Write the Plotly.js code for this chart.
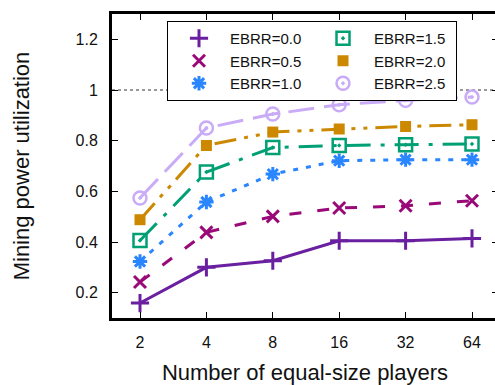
<!DOCTYPE html>
<html>
<head>
<meta charset="utf-8">
<script src="https://cdn.plot.ly/plotly-3.0.1.min.js"></script>
<style>
html,body{margin:0;padding:0;overflow:hidden;background:#fff;}
#chart{width:500px;height:385px;}
</style>
</head>
<body>
<div id="chart"></div>
<script>
// ---- data ----
const players = [2, 4, 8, 16, 32, 64];
const seriesNames = ['EBRR=0.0', 'EBRR=0.5', 'EBRR=1.0', 'EBRR=1.5', 'EBRR=2.0', 'EBRR=2.5'];
const ebrr00 = [0.159, 0.300, 0.326, 0.405, 0.405, 0.414];
const ebrr05 = [0.242, 0.438, 0.501, 0.534, 0.543, 0.563];
const ebrr10 = [0.323, 0.558, 0.668, 0.721, 0.725, 0.725];
const ebrr15 = [0.406, 0.676, 0.773, 0.781, 0.784, 0.787];
const ebrr20 = [0.488, 0.781, 0.834, 0.846, 0.856, 0.863];
const ebrr25 = [0.574, 0.850, 0.905, 0.942, 0.959, 0.972];
const yTickVals = [0.2, 0.4, 0.6, 0.8, 1, 1.2];
const yTickText = ['0.2', '0.4', '0.6', '0.8', '1', '1.2'];
const xTickText = ['2', '4', '8', '16', '32', '64'];
const refLineY = 1;

// ---- styles ----
const seriesValues = [ebrr00, ebrr05, ebrr10, ebrr15, ebrr20, ebrr25];
const colors = ['#6a1fa0', '#990a78', '#2a86ff', '#00a074', '#cc8800', '#c9abf7'];
const dashes = ['solid', '12px,16px', '5px,8px', '24px,10px,4px,10px', '22px,8px,4px,8px,4px,8px', '26px,10px'];
const symbols = ['cross-thin', 'x-thin', 'asterisk', 'square-open-dot', 'square', 'circle-open-dot'];
const msizes = [13, 12, 12, 13, 11, 13];
const mlw = [3, 3, 3, 2.5, 0, 2.5];
const legendRank = [1, 3, 5, 2, 4, 6];

const font = 'Liberation Sans, Arial, sans-serif';
const traces = [];
seriesValues.forEach((vals, i) => {
  const marker = {
    symbol: symbols[i], size: msizes[i], color: colors[i],
    line: {color: colors[i], width: mlw[i]}
  };
  traces.push({
    x: players, y: vals, type: 'scatter', mode: 'lines+markers',
    line: {color: colors[i], width: 3, dash: dashes[i]},
    marker: marker, showlegend: false, name: seriesNames[i], hoverinfo: 'skip'
  });
  traces.push({
    x: [null], y: [null], type: 'scatter', mode: 'markers',
    marker: marker, name: seriesNames[i], showlegend: true,
    legendrank: legendRank[i]
  });
});

const axisCommon = {
  showline: true, linecolor: '#000', linewidth: 3, mirror: 'allticks',
  ticks: 'inside', ticklen: 6, tickwidth: 1, tickcolor: '#000',
  showgrid: false, zeroline: false,
  tickfont: {family: font, size: 16, color: '#111'}
};

const layout = {
  width: 500, height: 385,
  margin: {l: 112, r: 2, t: 14, b: 67},
  paper_bgcolor: '#fff', plot_bgcolor: '#fff',
  font: {family: font, color: '#111'},
  xaxis: Object.assign({}, axisCommon, {
    type: 'log',
    range: [0.17409, 1.92405],
    tickvals: players, ticktext: xTickText,
    ticklabelstandoff: 8,
    title: {text: 'Number of equal-size players', font: {family: font, size: 22, color: '#111'}, standoff: 18}
  }),
  yaxis: Object.assign({}, axisCommon, {
    range: [0.1, 1.3],
    tickvals: yTickVals, ticktext: yTickText,
    ticklabelstandoff: 8,
    title: {text: 'Mining power utilization', font: {family: font, size: 22, color: '#111'}, standoff: 40}
  }),
  legend: {
    x: 0.1425, y: 0.977, xanchor: 'left', yanchor: 'top',
    orientation: 'h', entrywidth: 77, entrywidthmode: 'pixels',
    itemwidth: 52,
    traceorder: 'normal',
    bgcolor: '#fff', bordercolor: '#000', borderwidth: 1,
    font: {family: font, size: 15, color: '#111'},
    tracegroupgap: 0
  },
  shapes: [{
    type: 'line', xref: 'paper', x0: 0, x1: 1, yref: 'y', y0: refLineY, y1: refLineY,
    line: {color: '#777', width: 1.5, dash: 'dot'}, layer: 'below'
  }]
};

Plotly.newPlot('chart', traces, layout, {displayModeBar: false, staticPlot: true});
</script>
</body>
</html>
